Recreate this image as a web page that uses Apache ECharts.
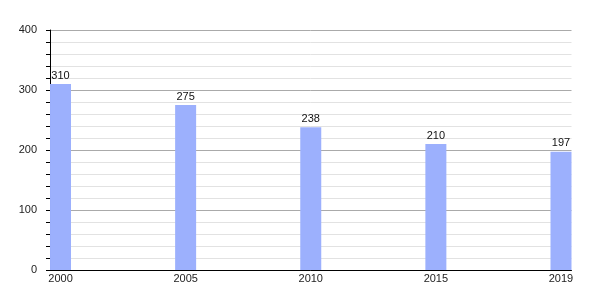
<!DOCTYPE html>
<html><head><meta charset="utf-8">
<script src="https://cdn.jsdelivr.net/npm/echarts@6/dist/echarts.min.js"></script>
<style>html,body{margin:0;padding:0;background:#fff}#c{width:600px;height:300px}</style>
</head><body><div id="c"></div>
<script>
const years = ['2000', '2005', '2010', '2015', '2019'];
const values = [310, 275, 238, 210, 197];
const yTicks = [0, 100, 200, 300, 400];

const chart = echarts.init(document.getElementById('c'), null, {renderer: 'canvas'});
const font = 'Liberation Sans, Arial, sans-serif';
chart.setOption({
  animation: false,
  grid: {left: 50, right: 28.5, top: 30, bottom: 30, containLabel: false},
  xAxis: {
    type: 'value', min: -0.084, max: 4.084,
    axisLine: {show: true, onZero: false, lineStyle: {color: '#000', width: 1}},
    axisTick: {show: false},
    splitLine: {show: false},
    axisLabel: {
      customValues: years.map((_, i) => i),
      formatter: v => years[Math.round(v)],
      color: '#222', fontSize: 11, fontFamily: font, margin: 3
    }
  },
  yAxis: {
    type: 'value', min: 0, max: 400, interval: 100,
    axisLine: {show: true, onZero: false, lineStyle: {color: '#000', width: 1}},
    axisTick: {show: true, length: 4, lineStyle: {color: '#000'}},
    minorTick: {show: true, splitNumber: 5, length: 4, lineStyle: {color: '#000'}},
    splitLine: {show: true, lineStyle: {color: '#aaaaaa', width: 1}},
    minorSplitLine: {show: true, lineStyle: {color: '#e2e2e2', width: 1}},
    axisLabel: {color: '#222', fontSize: 11, fontFamily: font, margin: 13,
      formatter: v => yTicks.includes(v) ? String(v) : ''}
  },
  series: [{
    type: 'bar',
    barWidth: 21,
    clip: false,
    data: values.map((v, i) => [i, v]),
    itemStyle: {color: '#9cb0fd'},
    label: {show: true, position: 'top', distance: 3, color: '#111', fontSize: 11, fontFamily: font}
  }]
});
</script></body></html>
